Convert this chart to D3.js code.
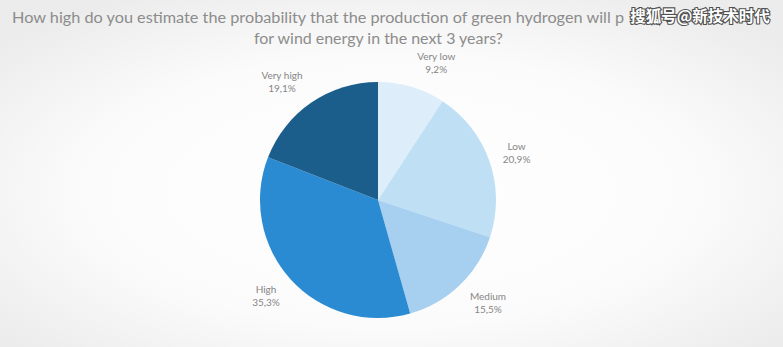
<!DOCTYPE html>
<html>
<head>
<meta charset="utf-8">
<script src="https://cdn.jsdelivr.net/npm/d3@7"></script>
<style>
  html, body { margin: 0; padding: 0; background: #ffffff; }
  svg { display: block; }
</style>
</head>
<body>
<svg id="chart" width="783" height="347"></svg>
<script>
// Survey answers, clockwise from 12 o'clock
const categories = ["Very low", "Low", "Medium", "High", "Very high"];
const shares = [9.2, 20.9, 15.5, 35.3, 19.1];
const sliceColors = ["#ddeefa", "#bfdff5", "#a6cff0", "#2a8bd2", "#1b5e8c"];
const titleLines = [
  "How high do you estimate the probability that the production of green hydrogen will p",
  "for wind energy in the next 3 years?"
];
const watermark = "搜狐号@新技术时代";

const W = 783, H = 347;
const svg = d3.select("#chart");

// soft vignette background
const defs = svg.append("defs");
const bg = defs.append("radialGradient").attr("id", "bg")
  .attr("cx", "50%").attr("cy", "55%").attr("r", "65%");
bg.append("stop").attr("offset", "0%").attr("stop-color", "#ffffff");
bg.append("stop").attr("offset", "60%").attr("stop-color", "#fbfbfb");
bg.append("stop").attr("offset", "100%").attr("stop-color", "#ececec");
svg.append("rect").attr("width", W).attr("height", H).attr("fill", "url(#bg)");

// title
const title = svg.append("g")
  .attr("font-family", "Lato, 'Open Sans', sans-serif")
  .attr("font-size", 15.5)
  .attr("fill", "#8c8c8c");
title.append("text").attr("x", 12).attr("y", 23)
  .attr("textLength", 612).attr("lengthAdjust", "spacingAndGlyphs")
  .text(titleLines[0]);
title.append("text").attr("x", 254).attr("y", 44)
  .attr("textLength", 249).attr("lengthAdjust", "spacingAndGlyphs")
  .text(titleLines[1]);

// pie
const cx = 378, cy = 200, R = 118;
const data = categories.map((c, i) => ({ name: c, value: shares[i], color: sliceColors[i] }));
const pie = d3.pie().sort(null).value(d => d.value);
const arc = d3.arc().innerRadius(0).outerRadius(R);
const arcs = pie(data);

const g = svg.append("g").attr("transform", `translate(${cx},${cy})`);
g.selectAll("path").data(arcs).join("path")
  .attr("d", arc)
  .attr("fill", d => d.data.color)
  .attr("stroke", "none");

// outside labels: the label box sits just beyond an anchor on the rim
const fmt = v => v.toFixed(1).replace(".", ",") + "%";
const anchorR = R + 12;
const labels = g.selectAll("g.lbl").data(arcs).join("g")
  .attr("class", "lbl")
  .attr("font-family", "Lato, 'Open Sans', sans-serif")
  .attr("font-size", 10)
  .attr("fill", "#868686")
  .attr("text-anchor", "middle");
labels.append("text").attr("y", -3).text(d => d.data.name);
labels.append("text").attr("y", 10).text(d => fmt(d.data.value));
labels.attr("transform", function (d) {
  const a = (d.startAngle + d.endAngle) / 2;
  const s = Math.sin(a), c = Math.cos(a);
  const box = this.getBBox();
  const w = box.width + 4, h = 26;
  const x = anchorR * s + (w / 2) * Math.sign(s);
  const y = -anchorR * c - (h / 2) * c;
  return `translate(${x},${y})`;
});

// watermark
svg.append("text")
  .attr("x", 700).attr("y", 22)
  .attr("text-anchor", "middle")
  .attr("font-family", "'Noto Sans CJK SC', sans-serif")
  .attr("font-size", 15.5)
  .attr("font-weight", "bold")
  .attr("fill", "#ffffff")
  .attr("stroke", "#505050")
  .attr("stroke-width", 2.2)
  .attr("paint-order", "stroke")
  .text(watermark);
</script>
</body>
</html>
